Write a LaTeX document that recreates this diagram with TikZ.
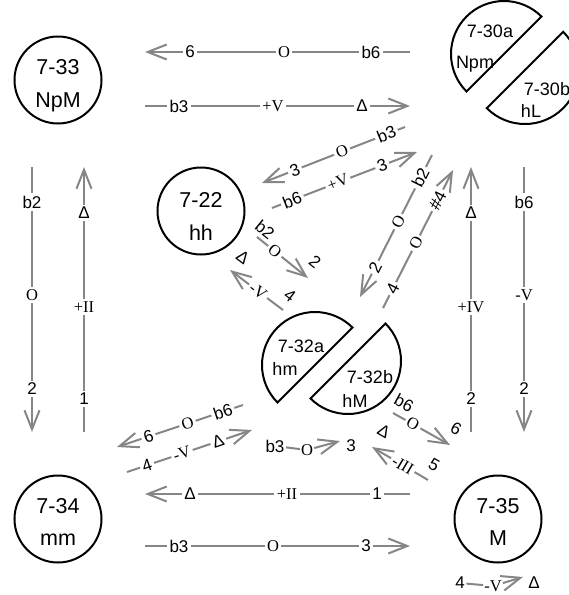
\documentclass[tikz,border=0pt]{standalone}
\usepackage{fontspec}
\setmainfont{Liberation Sans}
\newfontfamily\romanlab{Liberation Serif}
\usetikzlibrary{arrows.meta}
\definecolor{linkgray}{RGB}{134,134,134}
\begin{document}
\begin{tikzpicture}[x=1pt,y=-1pt,
  state/.style={circle,draw,line width=2pt,minimum size=87pt,inner sep=0pt},
  big/.style={font=\fontsize{21.5}{21.5}\selectfont,anchor=base,inner sep=0pt},
  mid/.style={font=\fontsize{18}{18}\selectfont,anchor=base,inner sep=0pt},
  half/.style={draw,line width=2pt,line join=miter},
  conn/.style={draw=linkgray,line width=2pt},
  arr/.style={conn,-{Straight Barb[length=19pt,width=15pt]}},
  lab/.style={fill=white,inner sep=2.5pt,text=black,font=\fontsize{17}{17}\selectfont},
  rlab/.style={lab,font=\romanlab\fontsize{16.5}{16.5}\selectfont},
  olab/.style={lab,fill=none,inner sep=0pt},
]
\useasboundingbox (0,0) rectangle (569,595);

% ---- single states ----
\node[state] (s733) at (58,80) {};
\node[big] (s733a) at (58,74) {7-33};
\node[big] (s733b) at (58,107) {NpM};
\node[state] (s734) at (58,519) {};
\node[big] (s734a) at (58,513) {7-34};
\node[big] (s734b) at (58,545) {mm};
\node[state] (s735) at (498,519) {};
\node[big] (s735a) at (498,513) {7-35};
\node[big] (s735b) at (498,545) {M};
\node[state] (s722) at (201,211) {};
\node[big] (s722a) at (201,207) {7-22};
\node[big] (s722b) at (201,240) {hh};

% ---- split states ----
\coordinate (c730a) at (504,54);
\coordinate (c730b) at (525,70);
\draw[half] (c730a) ++(135:53) arc[start angle=135,end angle=315,radius=53] -- cycle;
\draw[half] (c730b) ++(-45:54) arc[start angle=-45,end angle=135,radius=54] -- cycle;
\node[mid] (s730a) at (490,37) {7-30a};
\node[mid] (s730b) at (475,68) {Npm};
\node[mid] (s730c) at (547,95) {7-30b};
\node[mid] (s730d) at (531,117) {hL};

\coordinate (c732a) at (315,365);
\coordinate (c732b) at (348,361);
\draw[half] (c732a) ++(135:53) arc[start angle=135,end angle=315,radius=53] -- cycle;
\draw[half] (c732b) ++(-45:53) arc[start angle=-45,end angle=135,radius=53] -- cycle;
\node[mid] (s732a) at (301,352) {7-32a};
\node[mid] (s732b) at (285,375) {hm};
\node[mid] (s732c) at (370,383) {7-32b};
\node[mid] (s732d) at (355,407) {hM};

% ---- horizontal rows ----
\coordinate (h1s) at (410,52);  \coordinate (h1e) at (145,52);
\draw[arr] (h1s) -- (h1e);
\node[lab] (h1a) at (190,52) {6};
\node[rlab] (h1b) at (284,52) {O};
\node[lab] (h1c) at (371,52) {b6};

\coordinate (h2s) at (145,106); \coordinate (h2e) at (410,106);
\draw[arr] (h2s) -- (h2e);
\node[lab] (h2a) at (179,106) {b3};
\node[rlab] (h2b) at (273,106) {+V};
\node[lab] (h2c) at (362,106) {Δ};

\coordinate (h3s) at (410,494); \coordinate (h3e) at (145,494);
\draw[arr] (h3s) -- (h3e);
\node[lab] (h3a) at (190,494) {Δ};
\node[rlab] (h3b) at (287,494) {+II};
\node[lab] (h3c) at (377,494) {1};

\coordinate (h4s) at (145,546); \coordinate (h4e) at (410,546);
\draw[arr] (h4s) -- (h4e);
\node[lab] (h4a) at (179,546) {b3};
\node[rlab] (h4b) at (273,546) {O};
\node[lab] (h4c) at (366,546) {3};

% ---- vertical columns ----
\coordinate (v1s) at (32,167); \coordinate (v1e) at (32,432);
\draw[arr] (v1s) -- (v1e);
\node[lab] (v1a) at (32,202) {b2};
\node[rlab] (v1b) at (32,295) {O};
\node[lab] (v1c) at (32,389) {2};

\coordinate (v2s) at (84,432); \coordinate (v2e) at (84,167);
\draw[arr] (v2s) -- (v2e);
\node[lab] (v2a) at (84,213) {Δ};
\node[rlab] (v2b) at (84,307) {+II};
\node[lab] (v2c) at (84,399) {1};

\coordinate (v3s) at (471,432); \coordinate (v3e) at (471,167);
\draw[arr] (v3s) -- (v3e);
\node[lab] (v3a) at (471,213) {Δ};
\node[rlab] (v3b) at (471,307) {+IV};
\node[lab] (v3c) at (471,399) {2};

\coordinate (v4s) at (524,167); \coordinate (v4e) at (524,432);
\draw[arr] (v4s) -- (v4e);
\node[lab] (v4a) at (524,202) {b6};
\node[rlab] (v4b) at (524,295) {-V};
\node[lab] (v4c) at (524,389) {2};

% ---- long diagonals ----
\coordinate (d1s) at (405,127); \coordinate (d1e) at (262,183);
\draw[arr] (d1s) -- (d1e)
  node[lab,sloped,pos=0.13] (d1a) {b3}
  node[rlab,sloped,pos=0.44] (d1b) {O}
  node[lab,sloped,pos=0.77] (d1c) {3};

\coordinate (d2s) at (272,208); \coordinate (d2e) at (417,152);
\draw[arr] (d2s) -- (d2e)
  node[lab,sloped,pos=0.14] (d2a) {b6}
  node[rlab,sloped,pos=0.455] (d2b) {+V}
  node[lab,sloped,pos=0.76] (d2c) {3};

\coordinate (d3s) at (432,155); \coordinate (d3e) at (360,297);
\draw[arr] (d3s) -- (d3e)
  node[lab,sloped,pos=0.16] (d3a) {b2}
  node[rlab,sloped,pos=0.47] (d3b) {O}
  node[lab,sloped,pos=0.79] (d3c) {2};

\coordinate (d4s) at (383,308); \coordinate (d4e) at (453,170);
\draw[arr] (d4s) -- (d4e)
  node[lab,sloped,pos=0.14] (d4a) {4}
  node[rlab,sloped,pos=0.47] (d4b) {O}
  node[lab,sloped,pos=0.78] (d4c) {\#4};

\coordinate (d5s) at (243,405); \coordinate (d5e) at (117,447);
\draw[arr] (d5s) -- (d5e)
  node[lab,sloped,pos=0.16] (d5a) {b6}
  node[rlab,sloped,pos=0.44] (d5b) {O}
  node[lab,sloped,pos=0.75] (d5c) {6};

\coordinate (d6s) at (127,472); \coordinate (d6e) at (252,430);
\draw[arr] (d6s) -- (d6e)
  node[lab,sloped,pos=0.16] (d6a) {4}
  node[rlab,sloped,pos=0.44] (d6b) {-V}
  node[lab,sloped,pos=0.73] (d6c) {Δ};

% ---- short diagonals ----
\coordinate (e1s) at (257,237); \coordinate (e1e) at (308,278);
\draw[arr] (e1s) -- (e1e) node[rlab,sloped,pos=0.35] (e1b) {O};
\node[olab,rotate=-39] (e1a) at (265,230) {b2};
\node[olab,rotate=-39] (e1c) at (315,262) {2};

\coordinate (e2s) at (283,310); \coordinate (e2e) at (230,270);
\draw[arr] (e2s) -- (e2e) node[rlab,sloped,pos=0.47] (e2b) {-V};
\node[olab,rotate=-37] (e2a) at (290,296) {4};
\node[olab,rotate=-37] (e2c) at (243,257) {Δ};

\coordinate (e3s) at (393,413); \coordinate (e3e) at (450,445);
\draw[arr] (e3s) -- (e3e) node[rlab,sloped,pos=0.35] (e3b) {O};
\node[olab,rotate=-29] (e3a) at (404,403) {b6};
\node[olab,rotate=-29] (e3c) at (456,429) {6};

\coordinate (e4s) at (428,480); \coordinate (e4e) at (372,447);
\draw[arr] (e4s) -- (e4e) node[rlab,sloped,pos=0.45] (e4b) {-III};
\node[olab,rotate=-30] (e4a) at (434,465) {5};
\node[olab,rotate=-30] (e4c) at (384,431) {Δ};

% ---- small chains ----
\node[lab,inner sep=1.5pt] (m1) at (275,446) {b3};
\node[rlab,inner sep=1pt] (m2) at (307,450) {O};
\coordinate (m3) at (340,441);
\node[lab,inner sep=1pt] (m4) at (351,446) {3};
\draw[conn] (m1) -- (m2);
\draw[arr] (m2) -- (m3);

\node[lab,inner sep=1.5pt] (k1) at (460,583) {4};
\node[rlab,inner sep=1pt] (k2) at (493,586) {-V};
\coordinate (k3) at (523,577);
\node[lab,inner sep=1pt] (k4) at (534,583) {Δ};
\draw[conn] (k1) -- (k2);
\draw[arr] (k2) -- (k3);
\end{tikzpicture}
\end{document}
